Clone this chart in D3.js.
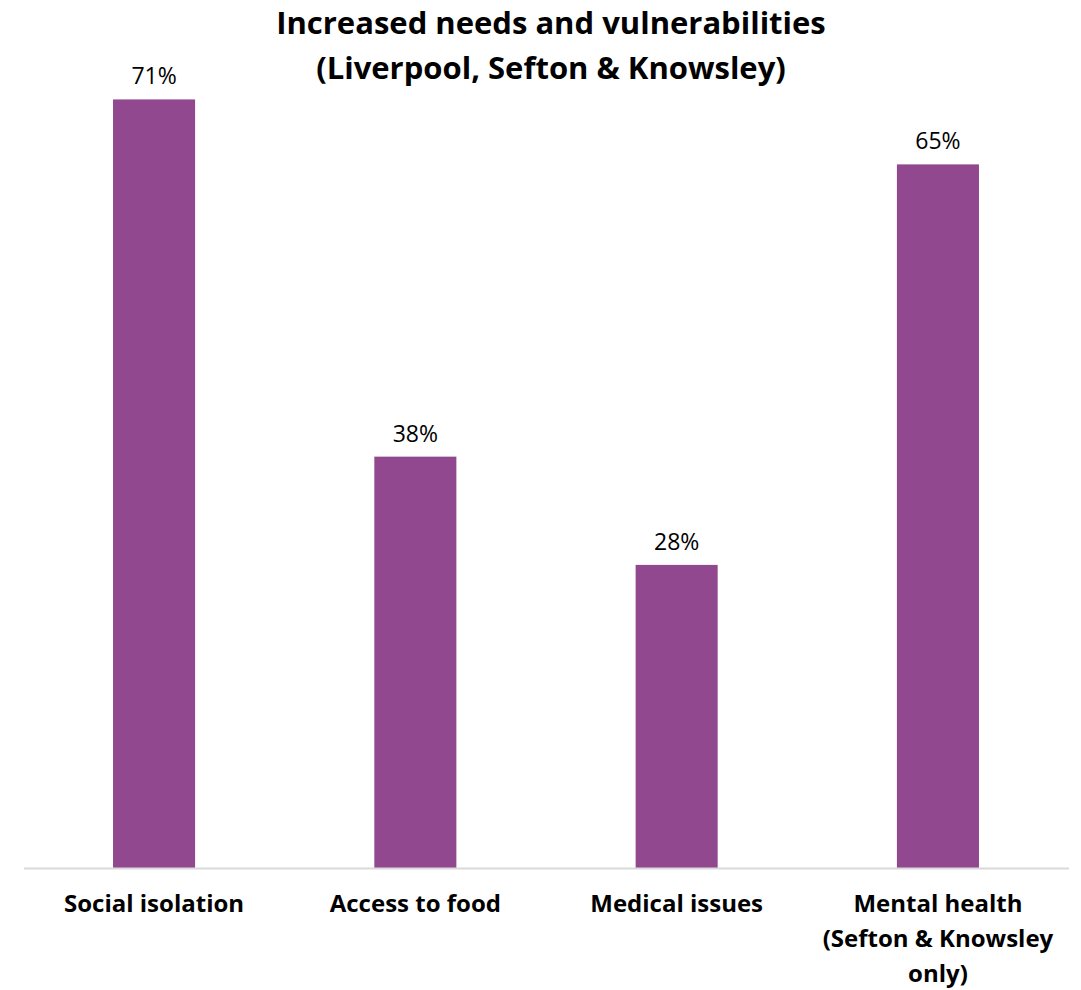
<!DOCTYPE html>
<html>
<head>
<meta charset="utf-8">
<script src="https://cdn.jsdelivr.net/npm/d3@7"></script>
<style>
  body { margin: 0; background: #fff; }
  svg text { font-family: "Open Sans", Lato, sans-serif; }
</style>
</head>
<body>
<svg id="chart" width="1081" height="990"></svg>
<script>
// ----------------------------
// Data
// ----------------------------
const titleLines = ["Increased needs and vulnerabilities", "(Liverpool, Sefton & Knowsley)"];
const categories = ["Social isolation", "Access to food", "Medical issues", "Mental health (Sefton & Knowsley only)"];
const categoryLines = [
  ["Social isolation"],
  ["Access to food"],
  ["Medical issues"],
  ["Mental health", "(Sefton & Knowsley", "only)"]
];
const values = [71, 38, 28, 65];

// ----------------------------
// Layout
// ----------------------------
const svg = d3.select("#chart");
const barColor = "#92488e";

const x = d3.scaleBand()
  .domain(categories)
  .range([23.4, 1068.6])
  .paddingInner(0.686)
  .paddingOuter(0.343);

const y = d3.scaleLinear().domain([0, 80]).range([868, 2]);

// bars
svg.append("g")
  .selectAll("rect")
  .data(values)
  .join("rect")
  .attr("x", (d, i) => x(categories[i]))
  .attr("y", d => y(d))
  .attr("width", x.bandwidth())
  .attr("height", d => y(0) - y(d))
  .attr("fill", barColor);

// baseline axis
const axis = svg.append("g")
  .attr("transform", `translate(0,${y(0)})`)
  .call(d3.axisBottom(x).tickSize(0).tickFormat(""));
axis.select(".domain").attr("stroke", "#d9d9d9").attr("stroke-width", 2);

// value labels
svg.append("g")
  .selectAll("text")
  .data(values)
  .join("text")
  .attr("x", (d, i) => x(categories[i]) + x.bandwidth() / 2)
  .attr("y", d => y(d) - 15)
  .attr("text-anchor", "middle")
  .attr("font-size", 23)
  .attr("fill", "#000")
  .text(d => d + "%");

// category labels
const cat = svg.append("g")
  .selectAll("text")
  .data(categoryLines)
  .join("text")
  .attr("x", (d, i) => x(categories[i]) + x.bandwidth() / 2)
  .attr("y", 912)
  .attr("text-anchor", "middle")
  .attr("font-size", 24)
  .attr("font-weight", "bold")
  .attr("fill", "#000");
cat.each(function(lines) {
  const t = d3.select(this);
  const cx = t.attr("x");
  lines.forEach((ln, j) => {
    t.append("tspan").attr("x", cx).attr("dy", j === 0 ? 0 : 35).text(ln);
  });
});

// title
svg.append("g")
  .selectAll("text")
  .data(titleLines)
  .join("text")
  .attr("x", 551)
  .attr("y", (d, i) => 34 + i * 45)
  .attr("text-anchor", "middle")
  .attr("font-size", 31)
  .attr("font-weight", "bold")
  .attr("fill", "#000")
  .text(d => d);
</script>
</body>
</html>
